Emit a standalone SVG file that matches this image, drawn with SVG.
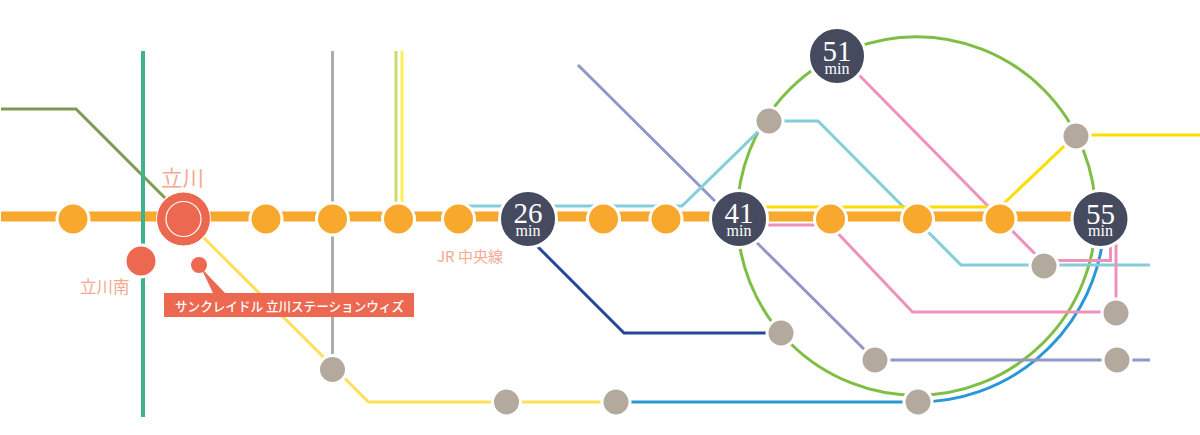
<svg xmlns="http://www.w3.org/2000/svg" width="1200" height="435" viewBox="0 0 1200 435">
<style>
.l{fill:none;stroke-width:3}
.o{fill:#f7a82d;stroke:#fff;stroke-width:3}
.g{fill:#b3aa9d;stroke:#fff;stroke-width:3}
.d{fill:#454a5f;stroke:#fff;stroke-width:3}
.r{fill:#ec6850}
.n{font-family:"Liberation Serif",serif;fill:#fff;text-anchor:middle}
.b{font-size:29px}
.m{font-size:16px}
.a{font-family:"Noto Sans CJK JP","Liberation Serif",sans-serif;fill:#f5a98f;font-weight:400}
</style>
<g id="connectors">
<path class="l" stroke="#7d9a55" d="M1 109H76L165 198"/>
<path class="l" stroke="#3fb28f" style="stroke-width:4" d="M143 51V417"/>
<path class="l" stroke="#adadad" d="M332.500 51V370"/>
<path class="l" stroke="#c9db6c" d="M396 51V206"/>
<path class="l" stroke="#fff056" d="M402 51V206"/>
<path class="l" stroke="#ffdf55" d="M204 238L368.500 402H616"/>
<path class="l" stroke="#2a98d6" d="M616 402H916A187 187 0 0 0 1101.500 248"/>
<circle class="l" stroke="#7fbe45" cx="916.500" cy="216" r="179.300"/>
<path class="l" stroke="#24479b" d="M537 246L624 333H781"/>
<path class="l" stroke="#9297c7" d="M578 65L875 360H1150"/>
<path class="l" stroke="#84cddb" d="M466 206H682L769 121H818L961 265H1150"/>
<path class="l" stroke="#ee91bb" d="M859 75L1044 263"/>
<path class="l" stroke="#ee91bb" d="M1044 260.500H1110.500V244"/>
<path class="l" stroke="#ee91bb" d="M1116 244V312"/>
<path class="l" stroke="#ee91bb" d="M739 225H830L912.500 312H1117"/>
<path class="l" stroke="#ffdd00" d="M739 207H1000L1076 135H1200"/>
<path fill="none" stroke="#f7a82d" stroke-width="10" d="M1 216.500H1090"/>
<path class="l" stroke="#3fb28f" style="stroke-width:4" d="M143 211V222"/>
</g>
<g id="st-0"><circle class="o" cx="73" cy="219" r="16"/></g>
<g id="tachikawa"><circle class="r" cx="183.500" cy="219" r="27" stroke="#fff" stroke-width="1"/><circle fill="none" stroke="#fff" stroke-width="1.200" cx="183.500" cy="219" r="17.500"/><text class="a" x="161" y="186" font-size="21.500">立川</text></g>
<g id="tachikawa-minami"><circle class="r" stroke="#fff" stroke-width="3" cx="141" cy="261" r="16"/><text class="a" x="80" y="293" font-size="16.500">立川南</text></g>
<g id="st-1"><circle class="o" cx="266" cy="219" r="16"/></g>
<g id="st-2"><circle class="o" cx="332.500" cy="219" r="16"/></g>
<g id="st-3"><circle class="o" cx="398.500" cy="219" r="16"/></g>
<g id="st-4"><circle class="o" cx="458.500" cy="219" r="16"/><text class="a" x="437" y="262" font-size="15">JR 中央線</text></g>
<g id="st-26"><circle class="d" cx="528" cy="219" r="28.500"/><text class="n b" x="528" y="223">26</text><text class="n m" x="528" y="236">min</text></g>
<g id="st-5"><circle class="o" cx="603.500" cy="219" r="16"/></g>
<g id="st-6"><circle class="o" cx="666" cy="219" r="16"/></g>
<g id="st-41"><circle class="d" cx="739" cy="219" r="28.500"/><text class="n b" x="739" y="223">41</text><text class="n m" x="739" y="236">min</text></g>
<g id="st-7"><circle class="o" cx="830.500" cy="219" r="16"/></g>
<g id="st-8"><circle class="o" cx="917.500" cy="219" r="16"/></g>
<g id="st-9"><circle class="o" cx="1000" cy="219" r="16"/></g>
<g id="st-55"><circle class="d" cx="1100.500" cy="219" r="28.500"/><text class="n b" x="1100.500" y="224">55</text><text class="n m" x="1100.500" y="236">min</text></g>
<g id="st-51"><circle class="d" cx="837" cy="56" r="28.500"/><text class="n b" x="837" y="61">51</text><text class="n m" x="837" y="73.500">min</text></g>
<g id="g-1"><circle class="g" cx="769" cy="121" r="14"/></g>
<g id="g-2"><circle class="g" cx="1076" cy="136" r="14"/></g>
<g id="g-3"><circle class="g" cx="1044" cy="266" r="14"/></g>
<g id="g-4"><circle class="g" cx="1116" cy="313" r="14"/></g>
<g id="g-5"><circle class="g" cx="781" cy="333" r="14"/></g>
<g id="g-6"><circle class="g" cx="875" cy="360" r="14"/></g>
<g id="g-7"><circle class="g" cx="1117" cy="360" r="14"/></g>
<g id="g-8"><circle class="g" cx="918" cy="402" r="14"/></g>
<g id="g-9"><circle class="g" cx="616" cy="402" r="14"/></g>
<g id="g-10"><circle class="g" cx="506.500" cy="402" r="14"/></g>
<g id="g-11"><circle class="g" cx="332.500" cy="369.500" r="14"/></g>
<g id="callout"><circle class="r" cx="199" cy="265" r="8"/><path class="r" d="M202 270L213 293H225L204 271Z"/><rect class="r" x="164" y="293" width="250" height="24"/><text x="175" y="311" font-family="'Noto Sans CJK JP',sans-serif" font-size="13" font-weight="500" fill="#fff" textLength="229" lengthAdjust="spacingAndGlyphs">サンクレイドル 立川ステーションウィズ</text></g>
</svg>
